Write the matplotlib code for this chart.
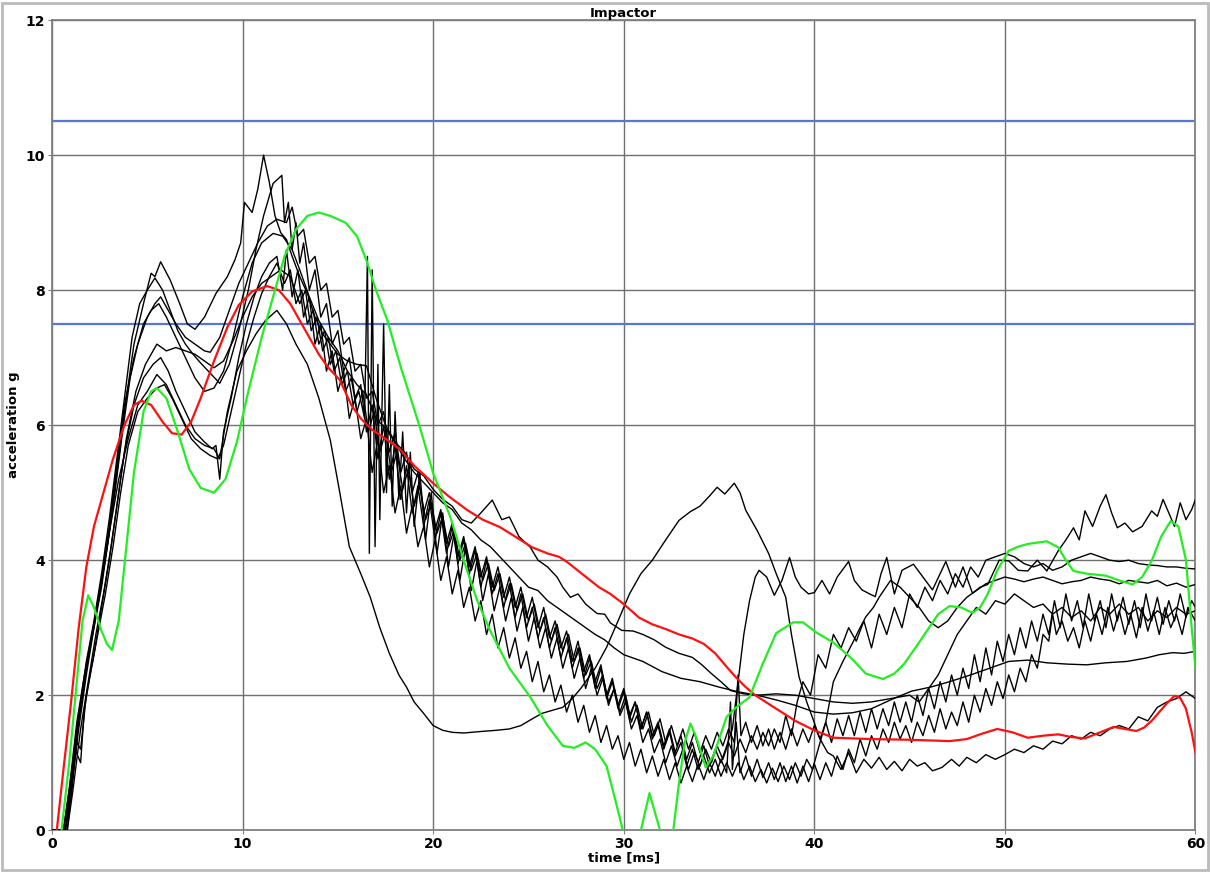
import numpy as np
import matplotlib.pyplot as plt
from matplotlib.patches import Rectangle

# limits (blue lines)
limits = [10.5, 7.5]

red = [(0.25,0),(0.6,0.9),(1.0,1.9),(1.4,3.0),(1.8,3.9),(2.2,4.5),(2.7,5.0),(3.2,5.5),(3.8,6.0),(4.3,6.3),
       (4.7,6.36),(5.2,6.3),(5.8,6.05),(6.3,5.88),(6.8,5.86),(7.3,6.05),(7.8,6.4),(8.5,6.95),(9.2,7.45),(9.8,7.78),
       (10.5,7.98),(11.3,8.06),(11.9,8.0),(12.5,7.8),(13.0,7.55),(13.5,7.3),(14.0,7.05),(14.5,6.85),(15.1,6.67),
       (15.7,6.3),(16.2,6.1),(16.8,5.93),(17.5,5.8),(18.3,5.63),(19.0,5.4),(20.0,5.14),(20.8,4.95),(21.8,4.74),
       (22.6,4.6),(23.5,4.49),(24.3,4.35),(25.2,4.19),(26.0,4.1),(26.6,4.05),(27.0,3.98),(27.8,3.8),(28.7,3.6),
       (29.3,3.5),(30.0,3.35),(30.8,3.15),(31.5,3.05),(32.2,2.98),(32.9,2.9),(33.6,2.84),(34.2,2.76),(34.8,2.62),
       (35.4,2.42),(35.9,2.26),(36.4,2.12),(36.9,2.0),(38.0,1.8),(39.0,1.62),(40.0,1.48),(41.0,1.37),(43.0,1.35),
       (45.0,1.34),(47.1,1.32),(48.0,1.35),(48.8,1.43),(49.6,1.5),(50.4,1.45),(51.2,1.37),(52.0,1.4),(52.8,1.42),
       (53.5,1.38),(54.2,1.36),(55.0,1.45),(55.7,1.53),(56.3,1.5),(56.9,1.47),(57.3,1.52),(57.7,1.62),(58.1,1.75),
       (58.5,1.88),(58.9,1.99),(59.2,1.96),(59.5,1.8),(59.8,1.45),(60.0,1.15)]

green = [(0.5,0),(0.9,1.0),(1.3,2.2),(1.6,3.1),(1.9,3.48),(2.2,3.3),(2.6,2.95),(2.9,2.75),(3.15,2.67),(3.5,3.1),
         (3.9,4.2),(4.3,5.3),(4.8,6.2),(5.2,6.5),(5.5,6.55),(6.0,6.4),(6.6,5.9),(7.2,5.35),(7.8,5.07),(8.5,5.0),
         (9.1,5.2),(9.7,5.75),(10.3,6.5),(11.0,7.3),(11.6,7.9),(12.2,8.5),(12.8,8.9),(13.4,9.1),(14.0,9.15),
         (14.6,9.1),(15.4,9.0),(16.0,8.8),(16.5,8.44),(17.0,8.0),(17.6,7.55),(18.3,6.86),(19.3,5.97),(20.0,5.29),
         (20.9,4.64),(21.6,4.0),(22.3,3.41),(23.0,2.95),(24.0,2.4),(25.1,1.97),(26.0,1.55),(26.8,1.25),(27.4,1.22),
         (28.0,1.3),(28.5,1.2),(29.1,0.95),(29.6,0.4),(29.95,0.0),(30.4,-0.3),(30.9,0.0),(31.35,0.55),(31.8,0.1),
         (32.2,-0.3),(32.6,0.0),(32.9,0.7),(33.2,1.3),(33.5,1.58),(33.8,1.38),(34.3,0.93),(34.7,1.1),(35.4,1.68),
         (35.9,1.82),(36.6,1.97),(37.3,2.47),(38.0,2.92),(38.9,3.08),(39.4,3.08),(40.1,2.93),(41.0,2.78),(41.9,2.56),
         (42.7,2.32),(43.6,2.24),(44.2,2.32),(44.7,2.46),(45.3,2.7),(45.9,2.95),(46.5,3.2),(47.1,3.32),(47.7,3.3),
         (48.3,3.22),(48.7,3.3),(49.1,3.5),(49.6,3.85),(50.2,4.14),(50.7,4.2),(51.2,4.24),(52.2,4.28),(52.8,4.19),
         (53.2,4.0),(53.6,3.84),(54.3,3.8),(55.3,3.77),(56.0,3.7),(56.7,3.64),(57.2,3.75),(57.7,3.99),(58.2,4.35),
         (58.7,4.58),(59.1,4.5),(59.5,4.0),(59.8,3.0),(60.0,2.41)]

# black test curves
k1 = [(0,0),(0.6,0),(0.9,0.6),(1.3,1.6),(1.7,2.3),(2.1,2.9),(2.6,3.7),(3.0,4.4),(3.5,5.2),(4.0,5.8),(4.5,6.3),
      (5.0,6.5),(5.5,6.75),(6.0,6.6),(6.5,6.3),(7.0,6.0),(7.5,5.8),(8.0,5.7),(8.5,5.65),(8.8,5.5),(9.2,6.2),
      (9.7,6.8),(10.2,7.1),(10.7,7.35),(11.2,7.55),(11.8,7.7),(12.3,7.5),(12.8,7.2),(13.4,6.9),(14.0,6.4),
      (14.6,5.78),(15.1,5.0),(15.6,4.2),(16.2,3.8),(16.7,3.45),(17.2,3.0),(17.7,2.62),(18.2,2.3),(18.6,2.12),
      (19.0,1.9),(19.5,1.73),(20.0,1.55),(20.5,1.48),(21.0,1.45),(21.6,1.44),(22.4,1.46),(23.3,1.48),(24.0,1.5),
      (24.6,1.55),(25.2,1.65),(25.7,1.73),(26.3,1.78),(26.8,1.82),(27.3,1.95),(27.8,2.12),(28.5,2.4),(29.1,2.71),
      (29.7,3.1),(30.3,3.5),(30.9,3.8),(31.5,4.0),(32.2,4.3),(32.9,4.59),(33.5,4.72),(34.0,4.8),(34.5,4.95),
      (34.9,5.08),(35.3,4.98),(35.8,5.14),(36.1,5.0),(36.4,4.74),(37.0,4.44),(37.6,4.1),(38.0,3.8),(38.5,3.45),
      (38.8,2.9),(39.2,2.27),(39.6,1.9),(39.9,1.67),(40.3,1.35),(40.7,1.15),(41.0,1.1),(41.4,0.9),(41.8,1.15),
      (42.2,0.85),(42.6,1.05),(43.0,0.92),(43.4,1.08),(43.8,0.9),(44.2,1.02),(44.6,0.88),(45.0,1.05),(45.4,0.95),
      (45.8,1.0),(46.2,0.88),(46.7,0.93),(47.2,1.05),(47.6,0.95),(48.0,1.08),(48.5,1.0),(49.0,1.12),(49.5,1.05),
      (50.0,1.12),(50.5,1.2),(51.0,1.15),(51.5,1.25),(52.0,1.2),(52.5,1.32),(53.0,1.28),(53.5,1.4),(54.0,1.35),
      (54.5,1.45),(55.0,1.4),(55.5,1.5),(56.0,1.55),(56.5,1.5),(57.0,1.68),(57.5,1.62),(58.0,1.82),(58.5,1.9),
      (59.0,1.95),(59.5,2.05),(60.0,1.95)]

k2 = [(0,0),(0.8,0),(1.1,0.8),(1.4,1.6),(1.8,2.4),(2.2,3.0),(2.6,3.6),(3.0,4.4),(3.4,5.3),(3.8,6.2),(4.3,7.2),
      (4.8,7.8),(5.2,8.25),(5.4,8.2),(5.7,8.42),(6.2,8.15),(6.7,7.8),(7.1,7.5),(7.5,7.42),(8.0,7.6),(8.6,7.95),
      (9.2,8.2),(9.6,8.45),(9.9,8.7),(10.1,9.3),(10.5,9.15),(10.8,9.5),(11.1,10.0),(11.4,9.6),(11.7,9.1),
      (12.0,8.85),(12.3,8.75),(12.6,8.5),(13.0,8.2),(13.4,7.95),(13.8,7.6),(14.2,7.35),(14.6,7.2),(15.0,7.05),
      (15.5,6.95),(16.0,6.9),(16.5,6.88),(17.0,6.4),(17.5,6.0),(18.0,5.75),(18.5,5.6),(19.0,5.35),(19.5,5.25),
      (20.0,5.05),(20.5,4.9),(21.0,4.8),(21.5,4.6),(22.0,4.55),(22.5,4.7),(23.1,4.89),(23.6,4.6),(24.0,4.64),
      (24.5,4.35),(25.1,4.19),(25.5,4.0),(26.0,3.9),(26.5,3.75),(26.8,3.6),(27.2,3.45),(27.6,3.5),(28.0,3.35),
      (28.6,3.21),(29.0,3.2),(29.3,3.07),(29.9,2.96),(30.5,2.95),(31.0,2.9),(31.6,2.82),(32.2,2.71),(32.9,2.62),
      (33.6,2.56),(34.1,2.45),(34.6,2.32),(35.1,2.2),(35.6,2.07),(36.3,2.02),(37.0,2.0),(38.0,1.93),(39.0,1.85),
      (40.0,1.75),(41.0,1.72),(42.0,1.74),(43.0,1.8),(44.0,1.93),(45.1,2.06),(46.1,2.12),(47.1,2.2),(48.2,2.3),
      (49.2,2.4),(50.2,2.5),(51.2,2.52),(52.2,2.48),(53.3,2.46),(54.3,2.45),(55.3,2.48),(56.4,2.5),(57.4,2.55),
      (58.1,2.6),(58.8,2.63),(59.4,2.62),(60.0,2.65)]

k3 = [(0,0),(0.7,0),(1.0,0.7),(1.4,1.7),(1.8,2.5),(2.2,3.1),(2.6,3.8),(3.0,4.6),(3.4,5.5),(3.8,6.4),(4.2,7.3),
      (4.6,7.8),(5.0,8.0),(5.4,8.18),(5.8,8.0),(6.2,7.7),(6.6,7.4),(7.0,7.2),(7.4,7.05),(7.8,6.92),(8.2,6.8),
      (8.8,6.62),(9.3,6.9),(9.8,7.4),(10.3,8.0),(10.7,8.6),(11.1,9.1),(11.6,9.58),(12.06,9.7),(12.2,9.0),
      (12.4,9.3),(12.6,8.6),(12.8,9.0),(13.0,8.4),(13.2,8.7),(13.5,8.0),(13.8,8.3),(14.1,7.6),(14.4,7.8),
      (14.7,7.2),(15.0,7.4),(15.3,6.8),(15.6,7.0),(15.9,6.4),(16.2,6.6),(16.5,5.9),(16.8,6.3),(17.1,5.5),
      (17.4,6.0),(17.7,5.2),(18.0,5.7),(18.3,4.9),(18.6,5.4),(18.9,4.7),(19.2,5.1),(19.5,4.5),(19.8,4.9),
      (20.1,4.3),(20.4,4.7),(20.7,4.1),(21.0,4.5),(21.3,3.95),(21.6,4.3),(21.9,3.8),(22.2,4.15),(22.5,3.6),
      (22.8,4.0),(23.1,3.5),(23.4,3.8),(23.7,3.3),(24.0,3.65),(24.3,3.15),(24.6,3.5),(24.9,3.0),(25.2,3.3),
      (25.5,2.85),(25.8,3.15),(26.1,2.7),(26.4,3.0),(26.7,2.55),(27.0,2.85),(27.3,2.4),(27.6,2.7),(27.9,2.25),
      (28.2,2.55),(28.5,2.1),(28.8,2.4),(29.1,1.95),(29.4,2.2),(29.7,1.8),(30.0,2.05),(30.3,1.65),(30.6,1.9),
      (30.9,1.5),(31.2,1.75),(31.5,1.4),(31.8,1.6),(32.1,1.25),(32.4,1.5),(32.7,1.15),(33.0,1.4),(33.3,1.05),
      (33.6,1.3),(33.9,1.0),(34.2,1.25),(34.5,0.95),(34.8,1.2),(35.1,1.0),(35.4,1.25),(35.7,1.5),(36.0,2.2),
      (36.3,2.9),(36.6,3.4),(36.9,3.75),(37.1,3.85),(37.5,3.75),(37.9,3.48),(38.3,3.7),(38.7,4.04),(39.0,3.75),
      (39.3,3.6),(39.7,3.5),(40.0,3.52),(40.4,3.7),(40.8,3.5),(41.2,3.75),(41.8,3.98),(42.1,3.7),(42.5,3.56),
      (42.9,3.5),(43.2,3.46),(43.5,3.8),(43.8,4.04),(44.2,3.5),(44.6,3.85),(45.2,3.94),(45.7,3.75),(46.2,3.56),
      (46.6,3.8),(46.9,3.98),(47.4,3.6),(47.8,3.9),(48.3,3.51),(48.7,3.6),(49.1,3.64),(49.7,4.0),(50.2,3.99),
      (50.7,3.85),(51.2,3.84),(51.7,4.0),(52.2,3.84),(52.8,4.14),(53.2,4.3),(53.6,4.48),(53.9,4.3),(54.2,4.73),
      (54.6,4.5),(55.0,4.8),(55.3,4.97),(55.6,4.7),(55.9,4.48),(56.3,4.55),(56.7,4.42),(57.2,4.5),(57.7,4.73),
      (58.0,4.65),(58.3,4.9),(58.6,4.7),(58.9,4.5),(59.2,4.85),(59.5,4.6),(59.8,4.75),(60.0,4.9)]

k4 = [(0,0),(0.6,0),(0.9,0.5),(1.3,1.5),(1.7,2.2),(2.1,2.9),(2.5,3.5),(2.9,4.2),(3.3,5.0),(3.7,5.9),(4.1,6.7),
      (4.5,7.2),(5.0,7.6),(5.4,7.8),(5.7,7.9),(6.1,7.7),(6.5,7.5),(7.0,7.3),(7.5,7.2),(8.0,7.1),(8.3,7.08),
      (8.8,7.3),(9.3,7.7),(9.8,8.1),(10.3,8.4),(10.8,8.7),(11.3,8.95),(11.8,9.05),(12.3,9.0),(12.6,9.23),
      (12.9,8.8),(13.2,8.9),(13.5,8.4),(13.8,8.5),(14.1,8.0),(14.4,8.1),(14.7,7.6),(15.0,7.7),(15.3,7.2),
      (15.6,7.3),(15.9,6.8),(16.2,6.9),(16.5,6.4),(16.8,6.5),(17.1,6.0),(17.4,6.2),(17.7,5.6),(18.0,5.9),
      (18.3,5.3),(18.6,5.6),(18.9,5.0),(19.2,5.3),(19.5,4.7),(19.8,5.0),(20.1,4.45),(20.4,4.75),(20.7,4.25),
      (21.0,4.55),(21.3,4.05),(21.6,4.35),(21.9,3.9),(22.2,4.2),(22.5,3.75),(22.8,4.05),(23.1,3.6),(23.4,3.9),
      (23.7,3.45),(24.0,3.75),(24.3,3.3),(24.6,3.6),(24.9,3.15),(25.2,3.45),(25.5,3.0),(25.8,3.3),(26.1,2.85),
      (26.4,3.1),(26.7,2.7),(27.0,2.95),(27.3,2.5),(27.6,2.8),(27.9,2.35),(28.2,2.6),(28.5,2.2),(28.8,2.45),
      (29.1,2.0),(29.4,2.25),(29.7,1.85),(30.0,2.1),(30.3,1.7),(30.6,1.9),(30.9,1.5),(31.2,1.75),(31.5,1.35),
      (31.8,1.55),(32.1,1.2),(32.4,1.45),(32.7,1.1),(33.0,1.3),(33.3,0.95),(33.6,1.2),(33.9,0.9),(34.2,1.1),
      (34.5,0.85),(34.8,1.05),(35.1,0.8),(35.4,1.0),(35.7,0.8),(36.0,1.0),(36.3,0.75),(36.6,0.95),(36.9,0.72),
      (37.2,0.9),(37.5,0.7),(37.8,0.92),(38.1,0.72),(38.4,0.95),(38.7,0.75),(39.0,1.0),(39.3,0.8),(39.6,1.05),
      (39.9,0.9),(40.2,1.2),(40.6,1.6),(41.0,2.2),(41.5,2.5),(42.0,2.77),(42.4,3.0),(42.7,3.16),(43.1,3.3),
      (43.4,3.45),(44.0,3.7),(44.5,3.6),(45.0,3.45),(45.5,3.3),(46.0,3.1),(46.5,3.0),(47.0,3.1),(47.5,3.3),
      (48.0,3.45),(48.5,3.55),(49.0,3.65),(49.5,3.7),(50.0,3.75),(50.5,3.72),(51.0,3.68),(51.5,3.72),(52.0,3.75),
      (52.5,3.7),(53.0,3.65),(53.5,3.68),(54.0,3.7),(54.5,3.75),(55.0,3.72),(55.5,3.7),(56.0,3.65),(56.5,3.7),
      (57.0,3.68),(57.5,3.66),(58.0,3.7),(58.5,3.62),(59.0,3.66),(59.5,3.6),(60.0,3.64)]

k5 = [(0,0),(0.7,0),(1.0,0.6),(1.4,1.5),(1.8,2.3),(2.2,3.0),(2.6,3.7),(3.0,4.5),(3.4,5.4),(3.8,6.3),(4.3,7.0),
      (4.8,7.5),(5.2,7.7),(5.6,7.8),(6.0,7.6),(6.5,7.3),(7.0,7.0),(7.5,6.7),(8.0,6.5),(8.5,6.55),(9.0,6.8),
      (9.5,7.3),(10.0,7.9),(10.5,8.4),(11.0,8.7),(11.6,8.84),(12.1,8.8),(12.6,8.6),(13.0,8.3),(13.5,7.9),
      (14.0,7.55),(14.5,7.3),(15.0,7.1),(15.5,6.8),(16.0,6.6),(16.5,6.45),(17.0,6.1),(17.5,5.95),(18.0,5.75),
      (18.5,5.5),(19.0,5.3),(19.5,5.15),(20.0,5.0),(20.5,4.85),(21.0,4.75),(21.5,4.55),(22.0,4.45),(22.5,4.3),
      (23.0,4.2),(23.5,4.05),(24.0,3.9),(24.5,3.75),(25.0,3.6),(25.5,3.55),(26.0,3.4),(26.5,3.3),(27.0,3.2),
      (27.5,3.1),(28.0,3.0),(28.5,2.9),(29.0,2.82),(29.5,2.7),(30.0,2.6),(31.0,2.5),(32.0,2.35),(33.0,2.25),
      (34.0,2.2),(35.0,2.12),(36.0,2.05),(37.0,2.0),(38.0,2.02),(39.0,2.0),(40.0,1.95),(41.0,1.9),(42.0,1.88),
      (43.0,1.9),(44.0,1.95),(45.0,2.0),(45.5,1.9),(46.0,2.1),(46.5,2.3),(47.0,2.6),(47.5,2.9),(48.0,3.1),
      (48.5,3.3),(49.0,3.2),(49.5,3.4),(50.0,3.35),(50.5,3.5),(51.0,3.4),(51.5,3.3),(52.0,3.35),(52.5,3.2),
      (53.0,3.3),(53.5,3.15),(54.0,3.25),(54.5,3.1),(55.0,3.3),(55.5,3.2),(56.0,3.35),(56.5,3.2),(57.0,3.3),
      (57.5,3.1),(58.0,3.25),(58.5,3.15),(59.0,3.3),(59.5,3.2),(60.0,3.25)]

k6 = [(0,0),(0.8,0),(1.1,0.6),(1.5,1.5),(1.9,2.2),(2.3,2.9),(2.7,3.5),(3.1,4.2),(3.5,5.0),(3.9,5.8),(4.4,6.5),
      (4.9,6.9),(5.5,7.2),(6.0,7.1),(6.5,7.15),(7.0,7.1),(7.5,7.05),(8.0,6.95),(8.5,6.85),(9.0,6.95),(9.5,7.25),
      (10.0,7.6),(10.5,7.9),(11.0,8.1),(11.5,8.2),(12.0,8.3),(12.5,8.2),(13.0,7.8),(13.3,8.0),(13.6,7.4),
      (13.9,7.6),(14.2,7.1),(14.5,7.3),(14.8,6.8),(15.1,7.0),(15.4,6.5),(15.7,6.7),(16.0,6.2),(16.3,6.5),
      (16.6,5.9),(16.9,6.2),(17.2,5.6),(17.5,5.9),(17.8,5.3),(18.1,5.6),(18.4,5.05),(18.7,5.35),(19.0,4.8),
      (19.3,5.1),(19.6,4.6),(19.9,4.85),(20.2,4.4),(20.5,4.65),(20.8,4.2),(21.1,4.45),(21.4,4.0),(21.7,4.25),
      (22.0,3.85),(22.3,4.1),(22.6,3.7),(22.9,3.95),(23.2,3.55),(23.5,3.8),(23.8,3.4),(24.1,3.65),(24.4,3.25),
      (24.7,3.5),(25.0,3.1),(25.3,3.35),(25.6,2.95),(25.9,3.2),(26.2,2.8),(26.5,3.05),(26.8,2.65),(27.1,2.9),
      (27.4,2.5),(27.7,2.7),(28.0,2.3),(28.3,2.5),(28.6,2.1),(28.9,2.3),(29.2,1.9),(29.5,2.1),(29.8,1.7),
      (30.1,1.9),(30.4,1.5),(30.7,1.7),(31.0,1.3),(31.3,1.5),(31.6,1.15),(31.9,1.35),(32.2,1.0),(32.5,1.25),
      (32.8,0.95),(33.1,1.2),(33.4,0.9),(33.7,1.15),(34.0,0.95),(34.3,1.2),(34.6,1.0),(34.9,1.25),(35.2,1.05),
      (35.5,1.3),(35.8,1.1),(36.1,1.35),(36.4,1.15),(36.7,1.4),(37.0,1.2),(37.3,1.45),(37.6,1.25),(37.9,1.5),
      (38.2,1.3),(38.5,1.7),(38.8,1.4),(39.1,1.9),(39.4,2.2),(39.8,2.0),(40.2,2.6),(40.6,2.4),(41.0,2.9),
      (41.4,2.7),(41.8,3.0),(42.2,2.8),(42.6,3.1),(43.0,2.7),(43.4,3.2),(43.8,2.9),(44.2,3.3),(44.6,3.0),
      (45.0,3.5),(45.4,3.3),(45.8,3.6),(46.2,3.4),(46.6,3.7),(47.0,3.5),(47.4,3.8),(47.8,3.6),(48.2,3.9),
      (48.6,3.75),(49.0,4.0),(49.5,4.05),(50.0,4.1),(50.5,4.05),(51.0,3.95),(51.5,3.9),(52.0,3.95),(52.5,3.85),
      (53.0,3.9),(53.5,4.0),(54.0,4.05),(54.5,4.1),(55.0,4.05),(55.5,4.0),(56.0,3.98),(56.5,4.0),(57.0,3.95),
      (57.5,3.93),(58.0,3.92),(58.5,3.9),(59.0,3.9),(59.5,3.88),(60.0,3.87)]

k7 = [(0,0),(0.7,0),(1.0,0.5),(1.3,1.3),(1.5,1.2),(1.8,2.0),(2.2,2.6),(2.6,3.3),(3.0,4.0),(3.4,4.8),(3.8,5.6),
      (4.3,6.3),(4.8,6.7),(5.3,6.9),(5.7,7.0),(6.1,6.8),(6.5,6.5),(7.0,6.2),(7.5,5.9),(8.0,5.75),(8.4,5.65),
      (8.6,5.7),(8.8,5.2),(9.0,5.9),(9.4,6.4),(9.8,7.0),(10.2,7.5),(10.6,7.9),(11.0,8.2),(11.4,8.4),(11.8,8.5),
      (12.1,8.0),(12.3,8.6),(12.6,7.9),(12.9,8.3),(13.2,7.6),(13.5,7.9),(13.8,7.2),(14.1,7.5),(14.4,6.8),
      (14.7,7.1),(15.0,6.5),(15.3,6.8),(15.6,6.1),(15.9,6.4),(16.2,5.8),(16.5,6.1),(16.8,5.3),(17.1,5.8),
      (17.4,5.0),(17.7,5.4),(18.0,4.7),(18.3,5.1),(18.6,4.4),(18.9,4.8),(19.2,4.2),(19.5,4.5),(19.8,3.9),
      (20.1,4.3),(20.4,3.7),(20.7,4.05),(21.0,3.5),(21.3,3.85),(21.6,3.3),(21.9,3.6),(22.2,3.1),(22.5,3.4),
      (22.8,2.9),(23.1,3.2),(23.4,2.7),(23.7,3.0),(24.0,2.55),(24.3,2.85),(24.6,2.4),(24.9,2.65),(25.2,2.2),
      (25.5,2.5),(25.8,2.05),(26.1,2.3),(26.4,1.9),(26.7,2.15),(27.0,1.75),(27.3,2.0),(27.6,1.6),(27.9,1.85),
      (28.2,1.45),(28.5,1.7),(28.8,1.3),(29.1,1.55),(29.4,1.2),(29.7,1.4),(30.0,1.05),(30.3,1.3),(30.6,0.95),
      (30.9,1.2),(31.2,0.85),(31.5,1.1),(31.8,0.8),(32.1,1.05),(32.4,0.75),(32.7,1.0),(33.0,0.7),(33.3,0.95),
      (33.6,0.72),(33.9,0.98),(34.2,0.75),(34.5,1.0),(34.8,0.8),(35.1,1.05),(35.4,0.85),(35.6,1.9),(35.7,0.9),
      (35.9,1.6),(36.1,0.85),(36.4,1.1),(36.7,0.8),(37.0,1.05),(37.3,0.78),(37.6,1.0),(37.9,0.75),(38.2,1.0),
      (38.5,0.72),(38.8,0.95),(39.1,0.7),(39.4,0.95),(39.7,0.72),(40.0,0.98),(40.3,0.75),(40.6,1.0),(40.9,0.8),
      (41.2,1.1),(41.5,0.9),(41.8,1.2),(42.1,1.0),(42.4,1.35),(42.7,1.1),(43.0,1.4),(43.3,1.2),(43.6,1.5),
      (43.9,1.3),(44.2,1.6),(44.5,1.35),(44.8,1.55),(45.1,1.3),(45.4,1.6),(45.7,1.4),(46.0,1.7),(46.3,1.45),
      (46.6,1.8),(46.9,1.5),(47.2,1.75),(47.5,1.55),(47.8,1.9),(48.1,1.6),(48.4,2.0),(48.7,1.75),(49.0,2.1),
      (49.3,1.85),(49.6,2.2),(49.9,1.95),(50.2,2.3),(50.5,2.05),(50.8,2.4),(51.1,2.2),(51.4,2.6),(51.7,2.4),
      (52.0,2.9),(52.3,2.8),(52.5,3.2),(52.7,2.9),(53.0,3.1),(53.3,2.8),(53.6,3.0),(53.9,2.7),(54.2,3.1),
      (54.5,2.8),(54.8,3.2),(55.1,2.9),(55.4,3.3),(55.7,2.95),(56.0,3.25),(56.3,2.9),(56.6,3.2),(56.9,2.85),
      (57.2,3.3),(57.5,2.95),(57.8,3.25),(58.1,2.9),(58.4,3.3),(58.7,3.0),(59.0,3.2),(59.3,2.9),(59.6,3.3),
      (60.0,3.1)]

k8 = [(0,0),(0.6,0),(0.9,0.6),(1.2,1.2),(1.5,1.0),(1.7,1.8),(2.0,2.3),(2.4,2.9),(2.8,3.5),(3.2,4.2),(3.6,5.0),
      (4.0,5.7),(4.5,6.2),(5.0,6.4),(5.5,6.55),(5.9,6.6),(6.3,6.4),(6.8,6.1),(7.3,5.8),(7.8,5.65),(8.3,5.55),
      (8.7,5.5),(9.0,5.7),(9.4,6.2),(9.8,6.7),(10.2,7.2),(10.6,7.6),(11.0,7.95),(11.4,8.2),(11.8,8.4),(12.2,8.1),
      (12.5,8.3),(12.8,7.8),(13.1,8.0),(13.4,7.5),(13.7,7.7),(14.0,7.2),(14.3,7.4),(14.6,6.9),(14.9,7.1),
      (15.2,6.6),(15.5,6.8),(15.8,6.3),(16.1,6.5),(16.4,6.1),(16.55,8.5),(16.65,4.1),(16.8,8.3),(16.95,4.2),
      (17.1,6.9),(17.2,4.6),(17.4,7.5),(17.55,5.0),(17.7,6.6),(17.85,4.8),(18.0,6.2),(18.2,4.9),(18.4,5.9),
      (18.6,4.7),(18.8,5.6),(19.0,4.5),(19.3,5.3),(19.6,4.3),(19.9,5.0),(20.2,4.1),(20.5,4.7),(20.8,3.9),
      (21.1,4.4),(21.4,3.7),(21.7,4.2),(22.0,3.55),(22.3,4.0),(22.6,3.4),(22.9,3.8),(23.2,3.25),(23.5,3.6),
      (23.8,3.1),(24.1,3.45),(24.4,2.95),(24.7,3.3),(25.0,2.8),(25.3,3.15),(25.6,2.7),(25.9,3.0),(26.2,2.55),
      (26.5,2.85),(26.8,2.4),(27.1,2.7),(27.4,2.25),(27.7,2.55),(28.0,2.1),(28.3,2.4),(28.6,2.0),(28.9,2.25),
      (29.2,1.85),(29.5,2.1),(29.8,1.75),(30.1,2.0),(30.4,1.6),(30.7,1.85),(31.0,1.5),(31.3,1.75),(31.6,1.4),
      (31.9,1.65),(32.2,1.3),(32.5,1.55),(32.8,1.25),(33.1,1.5),(33.4,1.2),(33.7,1.45),(34.0,1.15),(34.3,1.4),
      (34.6,1.2),(34.9,1.45),(35.2,1.25),(35.5,1.5),(35.8,1.3),(36.0,2.3),(36.15,1.4),(36.4,1.6),(36.7,1.3),
      (37.0,1.55),(37.3,1.25),(37.6,1.5),(37.9,1.2),(38.2,1.45),(38.5,1.2),(38.8,1.5),(39.1,1.25),(39.4,1.5),
      (39.7,1.3),(40.0,1.55),(40.3,1.35),(40.6,1.6),(40.9,1.3),(41.2,1.65),(41.5,1.4),(41.8,1.7),(42.1,1.4),
      (42.4,1.75),(42.7,1.45),(43.0,1.8),(43.3,1.5),(43.6,1.8),(43.9,1.55),(44.2,1.9),(44.5,1.6),(44.8,1.9),
      (45.1,1.6),(45.4,2.0),(45.7,1.7),(46.0,2.1),(46.3,1.8),(46.6,2.2),(46.9,1.9),(47.2,2.3),(47.5,2.0),
      (47.8,2.4),(48.1,2.1),(48.4,2.6),(48.7,2.2),(49.0,2.7),(49.3,2.3),(49.6,2.8),(49.9,2.5),(50.2,2.9),
      (50.5,2.6),(50.8,3.0),(51.1,2.7),(51.4,3.1),(51.7,2.8),(52.0,3.2),(52.3,2.9),(52.6,3.4),(52.9,3.0),
      (53.2,3.5),(53.5,3.1),(53.8,3.4),(54.1,3.0),(54.4,3.5),(54.7,3.1),(55.0,3.4),(55.3,3.0),(55.6,3.5),
      (55.9,3.1),(56.2,3.45),(56.5,3.05),(56.8,3.4),(57.1,3.0),(57.4,3.5),(57.7,3.1),(58.0,3.45),(58.3,3.05),
      (58.6,3.4),(58.9,3.1),(59.2,3.5),(59.5,3.15),(59.8,3.4),(60.0,3.3)]

tests = [k1, k2, k3, k4, k5, k6, k7, k8]


def xy(pts):
    a = np.array(pts)
    return a[:, 0], a[:, 1]


fig = plt.figure(figsize=(12.1, 8.73), dpi=100)
ax = fig.add_axes([0.043, 0.049, 0.945, 0.928])

for lim in limits:
    ax.axhline(lim, color='#5577dd', lw=1.6, zorder=2)

for k in tests:
    t, a = xy(k)
    ax.plot(t, a, color='black', lw=1.0, zorder=3)

t, a = xy(red)
ax.plot(t, a, color='#ff1010', lw=1.6, zorder=4, solid_joinstyle='round')
t, a = xy(green)
ax.plot(t, a, color='#22ee22', lw=1.6, zorder=4, solid_joinstyle='round')

ax.set_xlim(0, 60)
ax.set_ylim(0, 12)
ax.set_xticks(np.arange(0, 61, 10))
ax.set_yticks(np.arange(0, 13, 2))
ax.grid(True, color='#707070', lw=1.0)
ax.set_axisbelow(True)
for s in ax.spines.values():
    s.set_color('#808080')
    s.set_linewidth(1.3)
ax.tick_params(length=3, color='#808080', labelsize=10, pad=2)
for lbl in ax.get_xticklabels() + ax.get_yticklabels():
    lbl.set_fontweight('bold')

ax.set_title('Impactor', fontsize=9.5, fontweight='bold', pad=1)
ax.set_xlabel('time [ms]', fontsize=9.5, fontweight='bold', labelpad=0)
ax.set_ylabel('acceleration g', fontsize=9.5, fontweight='bold', labelpad=4)

fig.patches.append(Rectangle((0.002, 0.003), 0.996, 0.994, transform=fig.transFigure,
                             fill=False, edgecolor='#bbbbbb', lw=2))

fig.savefig('out.png', dpi=100)
